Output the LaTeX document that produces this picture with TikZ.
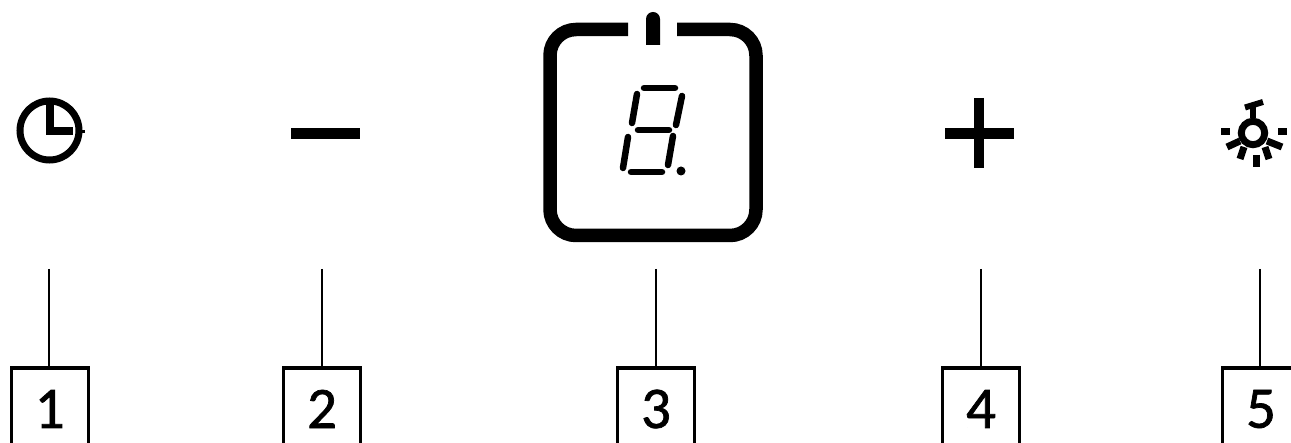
\documentclass[tikz,border=0pt]{standalone}
\usepackage{fontspec}
\setmainfont{Carlito}
\newfontfamily\boxfont[FakeBold=1.2]{Carlito}

\begin{document}
\begin{tikzpicture}[x=1pt,y=-1pt,
                    main node/.style={rectangle,draw,line width=3.4pt,minimum width=77pt,minimum height=82pt,
                                      inner sep=0pt,font=\boxfont\fontsize{59}{60}\selectfont},
                    stem/.style={line width=1.5pt},
                    icon/.style={line width=7pt},
                    bar/.style={line width=11pt},
                    frame/.style={line width=13.5pt},
                    segment/.style={line width=6.5pt,line cap=round},
                    ray/.style={line width=7pt}]

  \useasboundingbox (0,0) rectangle (1291,443);
  \clip (0,0) rectangle (1291,443);

  \node[main node] (1) at (49.7,409) {1};
  \node[main node] (2) at (322,409) {2};
  \node[main node] (3) at (656,409) {3};
  \node[main node] (4) at (981,409) {4};
  \node[main node] (5) at (1261,409) {5};

  \coordinate (t1) at (49,269);
  \coordinate (t2) at (322,269);
  \coordinate (t3) at (656,269);
  \coordinate (t4) at (981,269);
  \coordinate (t5) at (1260,269);

  \path[stem]
    (t1) edge (t1 |- 1.north)
    (t2) edge (t2 |- 2.north)
    (t3) edge (t3 |- 3.north)
    (t4) edge (t4 |- 4.north)
    (t5) edge (t5 |- 5.north);

  % clock
  \draw[icon] (49.5,130.5) circle (29.5);
  \draw[line width=7.5pt] (50,99) -- (50,131) -- (73,131);
  \draw[line width=3pt] (80,132) -- (85,132);

  % minus and plus
  \draw[bar] (291,133.5) -- (360,133.5);
  \draw[bar] (945,133.5) -- (1014,133.5);
  \draw[bar,line width=10pt] (978.5,98) -- (978.5,168);

  % display
  \draw[frame,rounded corners=26pt] (628,29.5) -- (550,29.5) -- (550,235.5) -- (756,235.5) -- (756,29.5) -- (677,29.5);
  \fill (646,45) -- (646,19) arc[start angle=180,end angle=360,radius=7] -- (660,45) -- cycle;

  \draw[segment] (644,88) -- (675,88);
  \draw[segment] (637,94) -- (632,123);
  \draw[segment] (682,96) -- (676,125);
  \draw[segment] (638,130) -- (669,130);
  \draw[segment] (628,137) -- (623,168);
  \draw[segment] (673,136) -- (668,165);
  \draw[segment] (631,172) -- (662,172);
  \fill (681,171) circle (4.5);

  % light
  \draw[icon] (1253,133) circle (11.7);
  \draw[line width=6pt] (1245,107.5) -- (1263,102);
  \draw[line width=6pt] (1253,105) -- (1253,118);
  \draw[ray] (1221,131.5) -- (1230,131.5);
  \draw[ray] (1278,131.5) -- (1287,131.5);
  \draw[ray] (1227,147) -- (1240,141);
  \draw[ray] (1282,147) -- (1267,141);
  \draw[ray] (1240,159) -- (1244,147);
  \draw[ray] (1269,159) -- (1265,147);
  \draw[ray] (1256,155) -- (1256,167);
\end{tikzpicture}
\end{document}
